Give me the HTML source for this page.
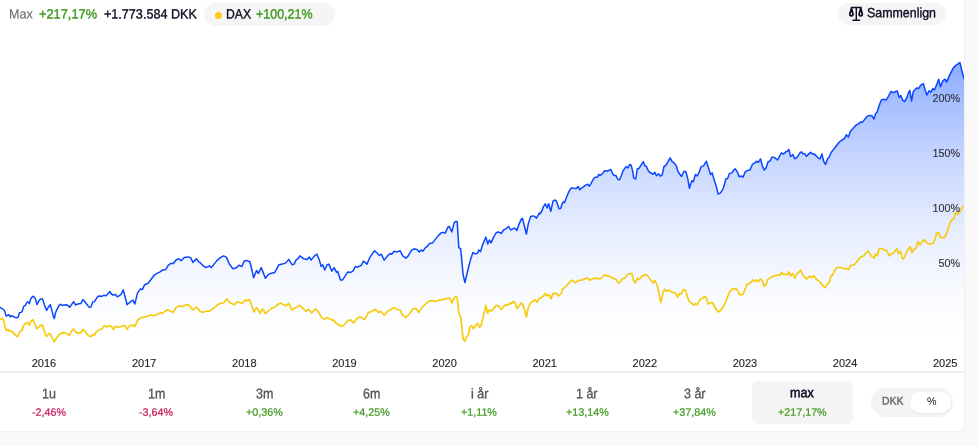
<!DOCTYPE html>
<html lang="da"><head><meta charset="utf-8"><title>Graf</title>
<style>
html,body{margin:0;padding:0;}
body{width:978px;height:446px;overflow:hidden;background:#f9f9f9;font-family:"Liberation Sans",sans-serif;color:#222;position:relative;}
.card{position:absolute;left:-20px;top:-20px;width:984px;height:451px;background:#fff;border-radius:4.5px;box-shadow:0 0 2.5px rgba(0,0,0,.11);}
.inner{position:absolute;left:20px;top:20px;width:964px;height:431px;}
.t{position:absolute;display:block;white-space:pre;line-height:normal;transform-origin:0 0;}
.pill{position:absolute;background:#f5f5f5;}
svg{position:absolute;left:0;top:0;}
.sep{position:absolute;left:0;top:371.2px;width:964px;height:2px;background:#ececec;}
</style></head><body>
<div class="card"><div class="inner">
<svg width="964" height="372" viewBox="0 0 964 372">
<defs><linearGradient id="g" gradientUnits="userSpaceOnUse" x1="0" y1="60" x2="0" y2="345">
<stop offset="0.0000" stop-color="#0046ff" stop-opacity="0.4600"/>
<stop offset="0.0833" stop-color="#0046ff" stop-opacity="0.3968"/>
<stop offset="0.1667" stop-color="#0046ff" stop-opacity="0.3374"/>
<stop offset="0.2500" stop-color="#0046ff" stop-opacity="0.2821"/>
<stop offset="0.3333" stop-color="#0046ff" stop-opacity="0.2309"/>
<stop offset="0.4167" stop-color="#0046ff" stop-opacity="0.1840"/>
<stop offset="0.5000" stop-color="#0046ff" stop-opacity="0.1416"/>
<stop offset="0.5833" stop-color="#0046ff" stop-opacity="0.1038"/>
<stop offset="0.6667" stop-color="#0046ff" stop-opacity="0.0711"/>
<stop offset="0.7500" stop-color="#0046ff" stop-opacity="0.0436"/>
<stop offset="0.8333" stop-color="#0046ff" stop-opacity="0.0219"/>
<stop offset="0.9167" stop-color="#0046ff" stop-opacity="0.0067"/>
<stop offset="1.0000" stop-color="#0046ff" stop-opacity="0.0000"/>
</linearGradient></defs>
<path d="M0,307.5 L1.9,308.5 L3.7,309.7 L4.9,311.6 L6.2,316.1 L7.6,315.3 L8.9,314.7 L10.1,316.9 L11.7,315.7 L13.3,316.5 L15,317.4 L17.3,317.8 L18.3,316.5 L19.5,312.8 L21,312.4 L22.2,311.2 L23.7,306.3 L25.3,305.4 L26.5,303 L27.8,301.7 L29.4,303.6 L30.8,298.9 L32.3,296.8 L33.5,296.2 L35.2,298.4 L37,304.6 L38.9,300.9 L40.5,298.9 L42.6,298.9 L44.4,304.8 L46.6,310.4 L48.7,306.7 L50.3,304.6 L51.8,310.4 L53.3,315.9 L54.3,318.6 L55.7,312.2 L57.4,308.5 L59.2,305.4 L60.4,304.2 L62.3,305.4 L64.1,305 L66.6,304.8 L68.5,306 L69.7,307.3 L71.5,304.6 L73.6,301.7 L75.5,305 L77.1,304.2 L78.9,303.8 L80.8,303.6 L82.9,299.6 L84.5,301.3 L86.3,303.8 L88.2,306 L89.4,307.3 L91,307 L92.7,302.1 L94.4,301.7 L96.2,298.9 L98.1,296.2 L99.9,295.9 L101.8,296.4 L104.2,295.2 L106.1,295.9 L107.9,293.7 L109.8,291.5 L111.6,294.3 L113.5,295.2 L115.3,294.3 L117.2,296.8 L119,295.9 L120,295.2 L121.2,294.1 L123.3,289.9 L127.1,304.7 L130.6,301.6 L132.9,300 L134.8,304 L137.6,292.9 L140.5,288.9 L142.4,289.4 L144.7,284.7 L147.8,283.5 L150.6,280 L154.1,275.3 L156.5,273.6 L160,271.8 L162.4,270.1 L165.9,269.4 L168.2,265.4 L170.6,263.5 L173.4,263.5 L176,260 L178.8,258.8 L181.2,260.7 L184.2,257.6 L188.2,256.9 L190.6,257.6 L192.9,262.4 L196.5,258.8 L198.8,261.9 L200,262.5 L202.8,265.3 L205.9,267.6 L209.4,265.8 L211.3,267.6 L214.1,264.1 L216.9,260.6 L220,257.8 L223.5,255.9 L226.4,257.1 L229.4,264.1 L232.9,268.8 L235.8,268.1 L238.8,265.3 L241.9,266.5 L244.2,261.1 L247.1,260.6 L249.9,261.8 L252.2,271.2 L253.6,277.8 L256.5,270.5 L258.4,273.5 L261.2,267.6 L263.1,272.4 L265.4,278.2 L268.2,274.7 L270.6,273.5 L274.8,272.4 L278.8,264.8 L282.4,264.1 L285.9,262.9 L288.7,259.4 L292.2,264.8 L294.1,264.1 L296,260.1 L298.4,258.2 L300,255.9 L303.5,258.7 L307.1,259.4 L309.4,257.1 L311.1,260.1 L314.1,256.4 L316.9,254 L319.5,260.6 L321.2,266.5 L322.8,264.8 L324.7,270 L327.1,264.8 L328.9,264.1 L331.8,271.2 L334.1,267.6 L336.5,272.4 L337.6,271.2 L340.5,279.9 L342.4,280.1 L345.2,275.9 L347.8,271.9 L350.6,272.4 L352.9,271.2 L355.3,266.5 L357.6,267.2 L361.2,265.3 L363.5,261.1 L367.1,264.1 L369.4,258.2 L371.8,254.7 L374.6,250.7 L377.6,253.5 L379.3,255.4 L381.2,254.2 L384.2,260.1 L387.1,256.4 L390.1,253.5 L391.8,254.2 L394.1,251.2 L397.2,251.9 L400,250.7 L402.8,255.9 L405.9,258.2 L408.2,255.9 L411.3,250.7 L414.1,248.8 L416.9,249.5 L419.3,251.9 L421.2,250 L422.8,251.2 L425.4,247.6 L427.1,246.5 L429.4,243.6 L432.5,242.9 L435.3,239.4 L438.1,235.9 L441.2,232.8 L443.5,232.4 L445.2,233.1 L447.8,227.2 L449.4,226.5 L451.8,231.9 L454.1,222.9 L455.8,221.3 L457.2,221.8 L458.8,247.6 L460.7,248.8 L463.1,274.7 L464.9,282.5 L468.2,268.8 L470.6,259.4 L472.9,252.4 L475.3,254 L477.6,253.1 L478.8,250 L480.5,251.6 L482.4,245.3 L485.9,237.1 L487.8,244.1 L489.4,239.9 L491.1,242.9 L493.6,237.1 L496.5,232.4 L498.4,231.9 L501.2,233.5 L503.5,230 L505.9,228.8 L508.7,226.5 L510.6,230 L512.9,228.8 L514.8,228.1 L516.9,230.5 L518.8,224.8 L521.2,219.4 L522.4,218.2 L524.2,225.3 L526.4,234 L528.2,224.1 L530.6,216.4 L532.9,215.9 L534.6,216.4 L536.5,218.2 L539.3,213.1 L540,213.8 L542,210.5 L543.6,206.3 L545.3,203.8 L547,208 L548.6,203.8 L550.8,211.3 L552.9,201.4 L554.6,200 L556.3,201 L557.9,205.5 L559.1,208.8 L560.7,208.5 L562.4,203 L563.5,201.9 L564.5,202.7 L566.2,198 L568.2,193.1 L570.2,189.3 L571.8,187.8 L574,188.4 L576.2,188.6 L578.1,186.4 L579.8,189.8 L581.8,187.8 L583.4,186.9 L585.6,185.1 L587.6,184.3 L589.4,186.1 L591.1,183.4 L593.1,179.5 L595.1,177.3 L597.2,177.3 L598.9,174.5 L600.5,175.3 L602.7,173.2 L604.7,170.7 L607.2,171 L609.3,170.3 L610.8,169.5 L612.1,172.3 L613.8,175.3 L616,175.7 L617.9,179.5 L619.6,179.8 L621.3,175.7 L622.9,171.2 L624.9,168.2 L626.2,166.5 L627.9,167.9 L629.6,164.5 L631.2,165.2 L632.9,172.3 L633.7,178.1 L635.7,179 L637.3,169 L639.2,168.2 L641.2,164.9 L643.3,161.6 L644.8,165.7 L646.5,166.5 L647.8,169.9 L649.5,172.3 L651.4,173.2 L653.1,174.3 L654.8,172.3 L656.4,175.7 L658.6,173.7 L660.2,176.2 L662.2,174.8 L664,166.5 L666,165.2 L668,161.6 L670.2,157.9 L671.8,161.2 L674,162.9 L676,165.2 L678,171.5 L680,174.5 L681.6,176.5 L684,171.3 L685.9,171.8 L687.8,178.8 L689.4,188.2 L691.8,180.7 L693.4,181.6 L695.3,174.6 L697.2,176 L699.3,171.8 L701.2,166.6 L703.5,165.9 L706.4,161.2 L708.2,167.1 L710.6,174.6 L712.2,172.9 L714.6,181.2 L716.5,187.1 L718.1,194.1 L720.5,192.9 L722.8,189.4 L724.7,183.5 L725.9,178.8 L727.5,178.8 L729.4,173.6 L731.8,172.9 L733.6,170.1 L735.3,168.9 L737.2,171.8 L739.3,176.9 L741.2,176 L743.1,177.2 L745.2,171.8 L747.1,170.6 L749.9,170.1 L752.5,164.2 L754.6,163.1 L756.5,161.2 L758.1,162.4 L760.5,158.8 L762.4,165.9 L764.2,170.1 L765.9,168.2 L768.2,161.6 L769.9,161.2 L772.2,156.9 L774.6,157.6 L777.6,160 L780,155.3 L781.6,152.9 L783.5,154.1 L785.9,151.8 L787.5,151.3 L788.9,149.4 L790.6,156.5 L792.9,154.6 L794.8,158.8 L797.2,157.2 L800,152.9 L801.5,151.8 L802.8,153.9 L804.4,153.4 L806.4,156.4 L808.4,154.4 L810.6,152.3 L812.2,153.9 L814.2,153.9 L816.4,156.1 L818,157.8 L820,158.9 L821.9,153.9 L823.8,161.7 L825.5,164.4 L827.5,158.9 L829.2,157.3 L831,152.8 L833,150.1 L835,147.8 L837.1,144.8 L839.3,142 L841.6,140.3 L843.7,139 L844.9,137.9 L846.2,134.9 L848.4,136.9 L850.4,131.6 L852.5,129.1 L854.5,126.6 L856.7,124.6 L858.7,123.8 L860.3,121.9 L862.3,122.4 L864.5,119.6 L867,116.6 L868.6,115.5 L870.3,115.8 L871.9,115.5 L873.9,119.1 L875.6,113.6 L876.9,112.5 L879.6,104.4 L881.5,99.7 L883.9,99.2 L885.8,100.2 L888.1,96.9 L890.9,91.5 L893.3,92.6 L895.6,91.5 L897.3,91 L899.2,97.4 L900.8,95.5 L902.7,100.2 L904.6,101.6 L906.9,97.4 L908.6,92.6 L909.8,90.3 L911.6,100.9 L913.3,91.5 L914.9,89.8 L916.8,87.9 L918.5,88.6 L920.8,85.1 L923.4,83.7 L925.1,89.8 L926.9,95 L929.1,90.8 L930.9,92.2 L932.8,88.6 L934.5,89.8 L936.8,84.4 L938.7,79.2 L940.4,86.8 L942.7,80.9 L945.1,79.2 L946.7,82.1 L948.6,77.4 L950.9,72.6 L953.3,67.9 L955.6,65.6 L958,63.9 L959.9,62.5 L961.5,69.1 L963.9,78.5 L964,78.5 L964,372 L0,372 Z" fill="url(#g)"/>
<path d="M0,307.5 L1.9,308.5 L3.7,309.7 L4.9,311.6 L6.2,316.1 L7.6,315.3 L8.9,314.7 L10.1,316.9 L11.7,315.7 L13.3,316.5 L15,317.4 L17.3,317.8 L18.3,316.5 L19.5,312.8 L21,312.4 L22.2,311.2 L23.7,306.3 L25.3,305.4 L26.5,303 L27.8,301.7 L29.4,303.6 L30.8,298.9 L32.3,296.8 L33.5,296.2 L35.2,298.4 L37,304.6 L38.9,300.9 L40.5,298.9 L42.6,298.9 L44.4,304.8 L46.6,310.4 L48.7,306.7 L50.3,304.6 L51.8,310.4 L53.3,315.9 L54.3,318.6 L55.7,312.2 L57.4,308.5 L59.2,305.4 L60.4,304.2 L62.3,305.4 L64.1,305 L66.6,304.8 L68.5,306 L69.7,307.3 L71.5,304.6 L73.6,301.7 L75.5,305 L77.1,304.2 L78.9,303.8 L80.8,303.6 L82.9,299.6 L84.5,301.3 L86.3,303.8 L88.2,306 L89.4,307.3 L91,307 L92.7,302.1 L94.4,301.7 L96.2,298.9 L98.1,296.2 L99.9,295.9 L101.8,296.4 L104.2,295.2 L106.1,295.9 L107.9,293.7 L109.8,291.5 L111.6,294.3 L113.5,295.2 L115.3,294.3 L117.2,296.8 L119,295.9 L120,295.2 L121.2,294.1 L123.3,289.9 L127.1,304.7 L130.6,301.6 L132.9,300 L134.8,304 L137.6,292.9 L140.5,288.9 L142.4,289.4 L144.7,284.7 L147.8,283.5 L150.6,280 L154.1,275.3 L156.5,273.6 L160,271.8 L162.4,270.1 L165.9,269.4 L168.2,265.4 L170.6,263.5 L173.4,263.5 L176,260 L178.8,258.8 L181.2,260.7 L184.2,257.6 L188.2,256.9 L190.6,257.6 L192.9,262.4 L196.5,258.8 L198.8,261.9 L200,262.5 L202.8,265.3 L205.9,267.6 L209.4,265.8 L211.3,267.6 L214.1,264.1 L216.9,260.6 L220,257.8 L223.5,255.9 L226.4,257.1 L229.4,264.1 L232.9,268.8 L235.8,268.1 L238.8,265.3 L241.9,266.5 L244.2,261.1 L247.1,260.6 L249.9,261.8 L252.2,271.2 L253.6,277.8 L256.5,270.5 L258.4,273.5 L261.2,267.6 L263.1,272.4 L265.4,278.2 L268.2,274.7 L270.6,273.5 L274.8,272.4 L278.8,264.8 L282.4,264.1 L285.9,262.9 L288.7,259.4 L292.2,264.8 L294.1,264.1 L296,260.1 L298.4,258.2 L300,255.9 L303.5,258.7 L307.1,259.4 L309.4,257.1 L311.1,260.1 L314.1,256.4 L316.9,254 L319.5,260.6 L321.2,266.5 L322.8,264.8 L324.7,270 L327.1,264.8 L328.9,264.1 L331.8,271.2 L334.1,267.6 L336.5,272.4 L337.6,271.2 L340.5,279.9 L342.4,280.1 L345.2,275.9 L347.8,271.9 L350.6,272.4 L352.9,271.2 L355.3,266.5 L357.6,267.2 L361.2,265.3 L363.5,261.1 L367.1,264.1 L369.4,258.2 L371.8,254.7 L374.6,250.7 L377.6,253.5 L379.3,255.4 L381.2,254.2 L384.2,260.1 L387.1,256.4 L390.1,253.5 L391.8,254.2 L394.1,251.2 L397.2,251.9 L400,250.7 L402.8,255.9 L405.9,258.2 L408.2,255.9 L411.3,250.7 L414.1,248.8 L416.9,249.5 L419.3,251.9 L421.2,250 L422.8,251.2 L425.4,247.6 L427.1,246.5 L429.4,243.6 L432.5,242.9 L435.3,239.4 L438.1,235.9 L441.2,232.8 L443.5,232.4 L445.2,233.1 L447.8,227.2 L449.4,226.5 L451.8,231.9 L454.1,222.9 L455.8,221.3 L457.2,221.8 L458.8,247.6 L460.7,248.8 L463.1,274.7 L464.9,282.5 L468.2,268.8 L470.6,259.4 L472.9,252.4 L475.3,254 L477.6,253.1 L478.8,250 L480.5,251.6 L482.4,245.3 L485.9,237.1 L487.8,244.1 L489.4,239.9 L491.1,242.9 L493.6,237.1 L496.5,232.4 L498.4,231.9 L501.2,233.5 L503.5,230 L505.9,228.8 L508.7,226.5 L510.6,230 L512.9,228.8 L514.8,228.1 L516.9,230.5 L518.8,224.8 L521.2,219.4 L522.4,218.2 L524.2,225.3 L526.4,234 L528.2,224.1 L530.6,216.4 L532.9,215.9 L534.6,216.4 L536.5,218.2 L539.3,213.1 L540,213.8 L542,210.5 L543.6,206.3 L545.3,203.8 L547,208 L548.6,203.8 L550.8,211.3 L552.9,201.4 L554.6,200 L556.3,201 L557.9,205.5 L559.1,208.8 L560.7,208.5 L562.4,203 L563.5,201.9 L564.5,202.7 L566.2,198 L568.2,193.1 L570.2,189.3 L571.8,187.8 L574,188.4 L576.2,188.6 L578.1,186.4 L579.8,189.8 L581.8,187.8 L583.4,186.9 L585.6,185.1 L587.6,184.3 L589.4,186.1 L591.1,183.4 L593.1,179.5 L595.1,177.3 L597.2,177.3 L598.9,174.5 L600.5,175.3 L602.7,173.2 L604.7,170.7 L607.2,171 L609.3,170.3 L610.8,169.5 L612.1,172.3 L613.8,175.3 L616,175.7 L617.9,179.5 L619.6,179.8 L621.3,175.7 L622.9,171.2 L624.9,168.2 L626.2,166.5 L627.9,167.9 L629.6,164.5 L631.2,165.2 L632.9,172.3 L633.7,178.1 L635.7,179 L637.3,169 L639.2,168.2 L641.2,164.9 L643.3,161.6 L644.8,165.7 L646.5,166.5 L647.8,169.9 L649.5,172.3 L651.4,173.2 L653.1,174.3 L654.8,172.3 L656.4,175.7 L658.6,173.7 L660.2,176.2 L662.2,174.8 L664,166.5 L666,165.2 L668,161.6 L670.2,157.9 L671.8,161.2 L674,162.9 L676,165.2 L678,171.5 L680,174.5 L681.6,176.5 L684,171.3 L685.9,171.8 L687.8,178.8 L689.4,188.2 L691.8,180.7 L693.4,181.6 L695.3,174.6 L697.2,176 L699.3,171.8 L701.2,166.6 L703.5,165.9 L706.4,161.2 L708.2,167.1 L710.6,174.6 L712.2,172.9 L714.6,181.2 L716.5,187.1 L718.1,194.1 L720.5,192.9 L722.8,189.4 L724.7,183.5 L725.9,178.8 L727.5,178.8 L729.4,173.6 L731.8,172.9 L733.6,170.1 L735.3,168.9 L737.2,171.8 L739.3,176.9 L741.2,176 L743.1,177.2 L745.2,171.8 L747.1,170.6 L749.9,170.1 L752.5,164.2 L754.6,163.1 L756.5,161.2 L758.1,162.4 L760.5,158.8 L762.4,165.9 L764.2,170.1 L765.9,168.2 L768.2,161.6 L769.9,161.2 L772.2,156.9 L774.6,157.6 L777.6,160 L780,155.3 L781.6,152.9 L783.5,154.1 L785.9,151.8 L787.5,151.3 L788.9,149.4 L790.6,156.5 L792.9,154.6 L794.8,158.8 L797.2,157.2 L800,152.9 L801.5,151.8 L802.8,153.9 L804.4,153.4 L806.4,156.4 L808.4,154.4 L810.6,152.3 L812.2,153.9 L814.2,153.9 L816.4,156.1 L818,157.8 L820,158.9 L821.9,153.9 L823.8,161.7 L825.5,164.4 L827.5,158.9 L829.2,157.3 L831,152.8 L833,150.1 L835,147.8 L837.1,144.8 L839.3,142 L841.6,140.3 L843.7,139 L844.9,137.9 L846.2,134.9 L848.4,136.9 L850.4,131.6 L852.5,129.1 L854.5,126.6 L856.7,124.6 L858.7,123.8 L860.3,121.9 L862.3,122.4 L864.5,119.6 L867,116.6 L868.6,115.5 L870.3,115.8 L871.9,115.5 L873.9,119.1 L875.6,113.6 L876.9,112.5 L879.6,104.4 L881.5,99.7 L883.9,99.2 L885.8,100.2 L888.1,96.9 L890.9,91.5 L893.3,92.6 L895.6,91.5 L897.3,91 L899.2,97.4 L900.8,95.5 L902.7,100.2 L904.6,101.6 L906.9,97.4 L908.6,92.6 L909.8,90.3 L911.6,100.9 L913.3,91.5 L914.9,89.8 L916.8,87.9 L918.5,88.6 L920.8,85.1 L923.4,83.7 L925.1,89.8 L926.9,95 L929.1,90.8 L930.9,92.2 L932.8,88.6 L934.5,89.8 L936.8,84.4 L938.7,79.2 L940.4,86.8 L942.7,80.9 L945.1,79.2 L946.7,82.1 L948.6,77.4 L950.9,72.6 L953.3,67.9 L955.6,65.6 L958,63.9 L959.9,62.5 L961.5,69.1 L963.9,78.5" fill="none" stroke="#0a46ff" stroke-width="1.5" stroke-linejoin="round" stroke-linecap="round"/>
<path d="M0,319.6 L2.5,318.1 L3.7,320.8 L5.2,327.6 L6.4,330.5 L8,329.5 L9.3,331.3 L11.1,330.7 L12.3,331.9 L14.2,333.8 L16,335.6 L17.6,336.9 L19.1,333.2 L20.4,331.3 L22,330.7 L23.4,325.8 L24.7,323.9 L26.5,323.1 L27.8,322.3 L29.4,325.2 L30.8,321.5 L32.7,319.6 L33.9,321.5 L35.2,325.2 L37,328.9 L38.9,326.8 L40.7,325.2 L42.6,325.2 L43.8,329.5 L45.6,335 L46.9,336.3 L48.7,333.8 L50.3,333.8 L51.6,336.9 L53,339.3 L54.3,341.8 L56.1,338.7 L58,336.3 L59.8,333.8 L61.7,333.4 L63.5,332.6 L65.4,333.2 L67.2,333.8 L69.1,335.6 L70.9,332.6 L72.2,330.1 L73.6,328.9 L75.2,331.3 L77.1,333.2 L78.9,332.6 L80.8,332.9 L82.9,329.5 L84.5,330.7 L86.3,333.2 L88.2,335.4 L90,336.6 L91.9,335.9 L93.1,334.4 L94.4,335.4 L96.2,331.9 L98.1,330.5 L99.9,329.5 L101.8,328.9 L104.2,325.8 L106.1,326.8 L107.9,326.4 L109.8,325.5 L111.6,326.8 L113.5,329.5 L115.3,326.4 L117.2,326.8 L120,327 L122.4,325.9 L124.7,325.2 L127.1,329.4 L129.4,325.9 L132.9,325.2 L134.8,326.6 L137.6,320 L140.5,318.1 L143.5,317.2 L147.1,316.5 L150.6,314.8 L152.9,315.8 L156.5,314.8 L160,312.9 L162.4,313.4 L165.9,310.6 L168.2,309.9 L172.9,312.5 L176,307.8 L178.8,305.9 L182.4,306.6 L185.9,304.7 L189.4,305.4 L192.9,309.9 L196.5,307.1 L200,311.2 L202.8,312.4 L205.9,311.2 L209.4,311.2 L212.9,308.8 L216.5,305.8 L220,303.4 L223.5,302.9 L227.1,298.9 L229.4,302.5 L231.8,303.4 L234.1,304.8 L237.2,301.8 L240,302.5 L242.4,303.6 L244.7,300.1 L247.1,300.6 L248.9,299.4 L250.6,301.8 L252.2,307.6 L254.1,311.9 L256.5,307.6 L258.4,310 L260,313.5 L262.4,308.8 L265.4,313.5 L268.2,311.2 L271.8,308.1 L274.8,307.2 L277.6,304.8 L280.5,302.9 L283.5,304.8 L285.9,305.8 L288.7,303.4 L291.8,310 L294.1,308.1 L296.5,307.2 L300,305.3 L302.8,308.4 L305.9,311.2 L308.7,309.5 L311.8,312.8 L315.3,308.8 L318.8,312.4 L321.2,317.1 L324.2,319.4 L327.1,317.5 L330.6,319.4 L334.1,320.6 L336.5,323.6 L338.8,324.6 L341.6,326.5 L344.7,324.6 L347.8,320.6 L350.6,319.9 L353.4,322.9 L356.5,318.9 L360,316.6 L362.4,318.2 L364.7,319.4 L368.2,312.8 L371.8,311.2 L375.3,309.3 L378.4,312.4 L380.7,311.2 L384.2,315.2 L387.1,311.9 L390.6,309.5 L394.1,307.6 L397.2,309.5 L400,310 L402.8,315.4 L405.9,317.5 L409.4,314 L412.9,308.8 L416,308.4 L418.8,312.4 L421.2,308.4 L423.5,306 L425.9,303.6 L428.7,301.3 L431.8,300.6 L435.3,301.3 L438.8,300.1 L442.4,299.9 L445.2,298.9 L448.2,298.2 L449.9,298.2 L451.8,302.9 L454.1,297.8 L455.8,296.4 L457.2,297.8 L458.8,312.4 L460.7,317.1 L463.1,338.9 L464.9,341.3 L466.6,337.1 L468.2,335.2 L470.1,326.5 L471.8,325.8 L473.4,328.8 L475.3,325.8 L477.6,323.4 L479.5,327.2 L481.2,325.3 L483.5,315.9 L485.9,305.3 L487.5,313.1 L489.4,310 L491.3,311.2 L493.6,308.4 L496.5,305.3 L498.8,306 L501.2,309.5 L503.5,306.5 L505.9,304.6 L508.2,305.3 L510.1,302.9 L511.8,303.6 L513.6,301.3 L515.3,303.6 L516.9,308.4 L518.8,306.5 L521.2,302.9 L522.8,304.6 L524.7,310 L526.4,317.1 L528.2,307.6 L530.6,302.9 L532.9,301.3 L534.8,299.9 L536.9,302.2 L539.3,298.2 L541.2,297.8 L543.5,295.9 L545.4,293.5 L547.1,295.9 L548.9,294.7 L551.1,298.9 L552.9,293.5 L555.3,293.1 L557.2,294.2 L558.8,295.9 L561.2,293.5 L562.8,288.8 L564.7,287.6 L567.5,284.8 L569.9,281.8 L572.2,280.1 L575.3,282.9 L578.1,280.6 L581.2,280.1 L584.7,278.9 L587.1,277.8 L589.4,280.1 L592.9,278.7 L596.5,278.2 L600,278.9 L602.4,277.1 L605.2,274.7 L607.5,275.9 L609.9,276.4 L612.9,278.2 L616,279.4 L618.4,282.9 L620.5,281.8 L622.4,278.7 L624.7,278.2 L627.8,274.2 L629.9,273.5 L631.8,273.5 L633.6,280.6 L635.3,282.9 L637.6,278.2 L639.5,279.4 L642.4,275.9 L645.2,274.7 L647.5,275.4 L649.9,278.9 L652.9,282.9 L654.8,280.6 L657.2,285.3 L658.8,292.4 L660.7,302.5 L663.1,292.4 L664.7,289.5 L666.6,291.2 L668.2,290 L670.6,291.2 L672.9,292.4 L675.3,292.8 L677.6,297.1 L679.5,293.5 L681.2,294 L683.5,289.5 L685.4,290 L687.5,297.1 L689.4,301.8 L691.8,302.9 L693.6,305.3 L695.3,303.6 L697.2,304.8 L699.3,300.6 L701.2,298.7 L702.8,298.2 L704.7,296.4 L706.4,298.2 L708.2,304.1 L710.1,302.9 L712.2,302.5 L714.6,306.5 L716.5,310 L718.1,311.9 L720.5,310.5 L722.8,307.6 L724.7,304.1 L727.1,298.2 L729.4,292.4 L731.3,290 L733.6,288.8 L736,288.8 L737.6,290.7 L739.3,294.7 L741.2,294.7 L743.1,294.2 L745.2,288.8 L747.1,284.1 L748.9,283.6 L751.1,282.2 L752.9,279.9 L754.6,281.3 L756.5,279.9 L758.1,281.8 L760.5,278.9 L762.4,280.6 L764.2,286.5 L765.9,284.6 L768.2,278.7 L769.9,278.2 L772.2,276.6 L774.6,275.9 L777.6,275.2 L780,275.2 L781.6,272.4 L783.5,274.7 L785.9,274.2 L787.5,274.7 L788.9,271.9 L790.6,275.9 L792.9,273.5 L794.8,278.2 L797.2,273.5 L800.8,270.3 L802.7,275 L805.1,277.4 L806.7,279 L809.8,276.2 L812.1,277.4 L813.8,275.7 L816.1,279 L818.5,280.9 L820.8,282.8 L822.7,285.6 L825.1,287.5 L827.4,283.9 L829.3,282.5 L830.9,276.2 L832.6,275 L834.5,270.8 L836.8,267.5 L839.6,267.5 L842.7,267.9 L844.6,269.1 L846.2,268.4 L848.6,269.6 L850.5,265.6 L853.3,265.1 L856.1,262.8 L859.2,258.5 L861.5,256.6 L863.9,255.7 L866.2,252.6 L867.9,251 L869.8,253.8 L872.1,256.6 L874,258.1 L875.6,253.8 L877.3,255.7 L879.2,248.6 L881.5,248.6 L883.9,249.8 L886.7,250.3 L889.1,255.7 L891.6,253.8 L893.8,252.6 L896.8,248.6 L898.5,253.4 L900.4,251.5 L902.7,259 L904.6,257.4 L906.9,251.5 L908.6,248.6 L910.2,246.8 L912.1,252.6 L914,249.1 L916.1,247.9 L918,241.6 L919.9,244.9 L922,242.1 L923.9,239.7 L926.2,242.1 L928.6,243.9 L930.9,243.9 L933.3,243.2 L935.2,238.5 L936.8,233.1 L938.5,232.6 L940.4,237.4 L942.7,237.8 L945.1,236.9 L946.9,232.6 L948.6,227.5 L950.2,222.8 L952.1,219.7 L954,218.5 L955.6,212.6 L957.3,214.3 L959.2,212.6 L961.1,209.6 L962.7,206.8" fill="none" stroke="#f7cb12" stroke-width="1.7" stroke-linejoin="round" stroke-linecap="round"/>
<g font-family="Liberation Sans, sans-serif" font-size="10.8" fill="#34343c" stroke="#34343c" stroke-width=".15" text-anchor="end">
<text x="960" y="101.6">200%</text>
<text x="960" y="156.6">150%</text>
<text x="960" y="211.6">100%</text>
<text x="960" y="266.6">50%</text>
</g>
<g font-family="Liberation Sans, sans-serif" font-size="11" fill="#1e1e26" stroke="#1e1e26" stroke-width=".12" text-anchor="middle">
<text x="44.0" y="366.8">2016</text>
<text x="144.2" y="366.8">2017</text>
<text x="244.3" y="366.8">2018</text>
<text x="344.4" y="366.8">2019</text>
<text x="444.6" y="366.8">2020</text>
<text x="544.7" y="366.8">2021</text>
<text x="644.8" y="366.8">2022</text>
<text x="745.0" y="366.8">2023</text>
<text x="845.1" y="366.8">2024</text>
<text x="945.2" y="366.8">2025</text>
</g></svg>
<div class="pill" style="left:204px;top:3px;width:131px;height:23px;border-radius:11.5px;"></div>
<div style="position:absolute;left:215px;top:11.7px;width:7.2px;height:7.2px;border-radius:50%;background:#ffc81a"></div>
<div class="pill" style="left:838px;top:3px;width:108px;height:22px;border-radius:11px;"></div>
<svg width="17" height="16" viewBox="0 0 17 16" style="left:848px;top:6px"><g fill="none" stroke="#0e0e24" stroke-width="1.45" stroke-linejoin="round"><path d="M8.3,1.4 V14.1 M4.4,14.15 H12.1 M2.9,1.45 H13.6"/><path stroke-width="1.8" d="M3.5,2.2 L1.85,8 C1.6,9.4 2.3,9.9 3.4,9.9 C4.5,9.9 5.2,9.4 4.95,8 Z M12.8,2.2 L11.15,8 C10.9,9.4 11.6,9.9 12.7,9.9 C13.8,9.9 14.5,9.4 14.25,8 Z"/></g></svg>
<div class="sep"></div>
<div class="pill" style="left:752px;top:381px;width:101px;height:43px;border-radius:6px;"></div>
<div class="pill" style="left:871px;top:388px;width:82px;height:29px;border-radius:14.5px;background:#f4f4f4"></div>
<div class="pill" style="left:910px;top:392px;width:40.5px;height:20.5px;border-radius:10.25px;background:#fff;box-shadow:0 1px 2px rgba(0,0,0,.06)"></div>
<div class="header">
<span class="t" id="h1" style="left:8.67px;top:6.00px;font-size:13.5px;color:#6a6a72;transform:translateY(0.41px) scaleX(0.9313) rotate(0.03deg);-webkit-text-stroke:0.12px #6a6a72;">Max</span>
<span class="t" id="h2" style="left:38.93px;top:6.00px;font-size:13.5px;color:#3f9a1e;transform:translateY(0.41px) scaleX(0.9491) rotate(0.03deg);-webkit-text-stroke:0.4px #3f9a1e;">+217,17%</span>
<span class="t" id="h3" style="left:104.43px;top:6.00px;font-size:13.5px;color:#0e0e24;transform:translateY(0.41px) scaleX(0.9332) rotate(0.03deg);-webkit-text-stroke:0.36px #0e0e24;">+1.773.584 DKK</span>
</div>
<div class="benchmark">
<span class="t" id="h4" style="left:226.11px;top:6.00px;font-size:13.5px;color:#0e0e24;transform:translateY(0.41px) scaleX(0.9042) rotate(0.03deg);-webkit-text-stroke:0.36px #0e0e24;">DAX</span>
<span class="t" id="h5" style="left:255.64px;top:6.00px;font-size:13.5px;color:#3f9a1e;transform:translateY(0.41px) scaleX(0.9242) rotate(0.03deg);-webkit-text-stroke:0.4px #3f9a1e;">+100,21%</span>
</div>
<div class="compare">
<span class="t" id="h6" style="left:866.66px;top:5.00px;font-size:13.5px;color:#0e0e24;transform:translateY(0.31px) scaleX(0.9189) rotate(0.03deg);-webkit-text-stroke:0.38px #0e0e24;">Sammenlign</span>
</div>
<div class="periods">
<div class="period"><span class="t" id="p0l" style="left:41.67px;top:384.00px;font-size:13.9px;color:#55555c;transform:translateY(1.14px) scaleX(0.9000) rotate(0.03deg);-webkit-text-stroke:0.35px #55555c;">1u</span><span class="t" id="p0v" style="left:31.62px;top:405.00px;font-size:10.7px;color:#c8185a;transform:translateY(0.69px) scaleX(1.0050) rotate(0.03deg);-webkit-text-stroke:0.22px #c8185a;">-2,46%</span></div>
<div class="period"><span class="t" id="p1l" style="left:147.68px;top:384.00px;font-size:13.9px;color:#55555c;transform:translateY(1.14px) scaleX(0.9000) rotate(0.03deg);-webkit-text-stroke:0.35px #55555c;">1m</span><span class="t" id="p1v" style="left:139.31px;top:405.00px;font-size:10.7px;color:#c8185a;transform:translateY(0.69px) scaleX(1.0050) rotate(0.03deg);-webkit-text-stroke:0.22px #c8185a;">-3,64%</span></div>
<div class="period"><span class="t" id="p2l" style="left:255.61px;top:384.00px;font-size:13.9px;color:#55555c;transform:translateY(1.14px) scaleX(0.9000) rotate(0.03deg);-webkit-text-stroke:0.35px #55555c;">3m</span><span class="t" id="p2v" style="left:245.70px;top:405.00px;font-size:10.7px;color:#3f9a1e;transform:translateY(0.69px) scaleX(1.0050) rotate(0.03deg);-webkit-text-stroke:0.22px #3f9a1e;">+0,36%</span></div>
<div class="period"><span class="t" id="p3l" style="left:363.25px;top:384.00px;font-size:13.9px;color:#55555c;transform:translateY(1.14px) scaleX(0.9000) rotate(0.03deg);-webkit-text-stroke:0.35px #55555c;">6m</span><span class="t" id="p3v" style="left:353.40px;top:405.00px;font-size:10.7px;color:#3f9a1e;transform:translateY(0.69px) scaleX(1.0050) rotate(0.03deg);-webkit-text-stroke:0.22px #3f9a1e;">+4,25%</span></div>
<div class="period"><span class="t" id="p4l" style="left:470.50px;top:384.00px;font-size:13.9px;color:#55555c;transform:translateY(1.14px) scaleX(0.9000) rotate(0.03deg);-webkit-text-stroke:0.35px #55555c;">i år</span><span class="t" id="p4v" style="left:461.47px;top:405.00px;font-size:10.7px;color:#3f9a1e;transform:translateY(0.69px) scaleX(1.0050) rotate(0.03deg);-webkit-text-stroke:0.22px #3f9a1e;">+1,11%</span></div>
<div class="period"><span class="t" id="p5l" style="left:576.06px;top:384.00px;font-size:13.9px;color:#55555c;transform:translateY(1.14px) scaleX(0.9000) rotate(0.03deg);-webkit-text-stroke:0.35px #55555c;">1 år</span><span class="t" id="p5v" style="left:565.78px;top:405.00px;font-size:10.7px;color:#3f9a1e;transform:translateY(0.69px) scaleX(1.0050) rotate(0.03deg);-webkit-text-stroke:0.22px #3f9a1e;">+13,14%</span></div>
<div class="period"><span class="t" id="p6l" style="left:683.99px;top:384.00px;font-size:13.9px;color:#55555c;transform:translateY(1.14px) scaleX(0.9000) rotate(0.03deg);-webkit-text-stroke:0.35px #55555c;">3 år</span><span class="t" id="p6v" style="left:673.48px;top:405.00px;font-size:10.7px;color:#3f9a1e;transform:translateY(0.69px) scaleX(1.0050) rotate(0.03deg);-webkit-text-stroke:0.22px #3f9a1e;">+37,84%</span></div>
<div class="period"><span class="t" id="p7l" style="left:790.33px;top:385.00px;font-size:13.8px;color:#0e0e24;transform:translateY(0.33px) scaleX(0.9087) rotate(0.03deg);-webkit-text-stroke:0.55px #0e0e24;">max</span><span class="t" id="p7v" style="left:778.23px;top:405.00px;font-size:10.7px;color:#3f9a1e;transform:translateY(0.69px) scaleX(1.0050) rotate(0.03deg);-webkit-text-stroke:0.22px #3f9a1e;">+217,17%</span></div>
</div>
<div class="toggle"><span class="t" id="t1" style="left:881.79px;top:394.00px;font-size:11.0px;color:#66666c;transform:translateY(0.51px) scaleX(0.9446) rotate(0.03deg);-webkit-text-stroke:0.4px #66666c;">DKK</span><span class="t" id="t2" style="left:926.53px;top:394.00px;font-size:10.8px;color:#0e0e24;transform:translateY(0.80px) scaleX(0.9915) rotate(0.03deg);">%</span></div>
</div></div>
</body></html>
